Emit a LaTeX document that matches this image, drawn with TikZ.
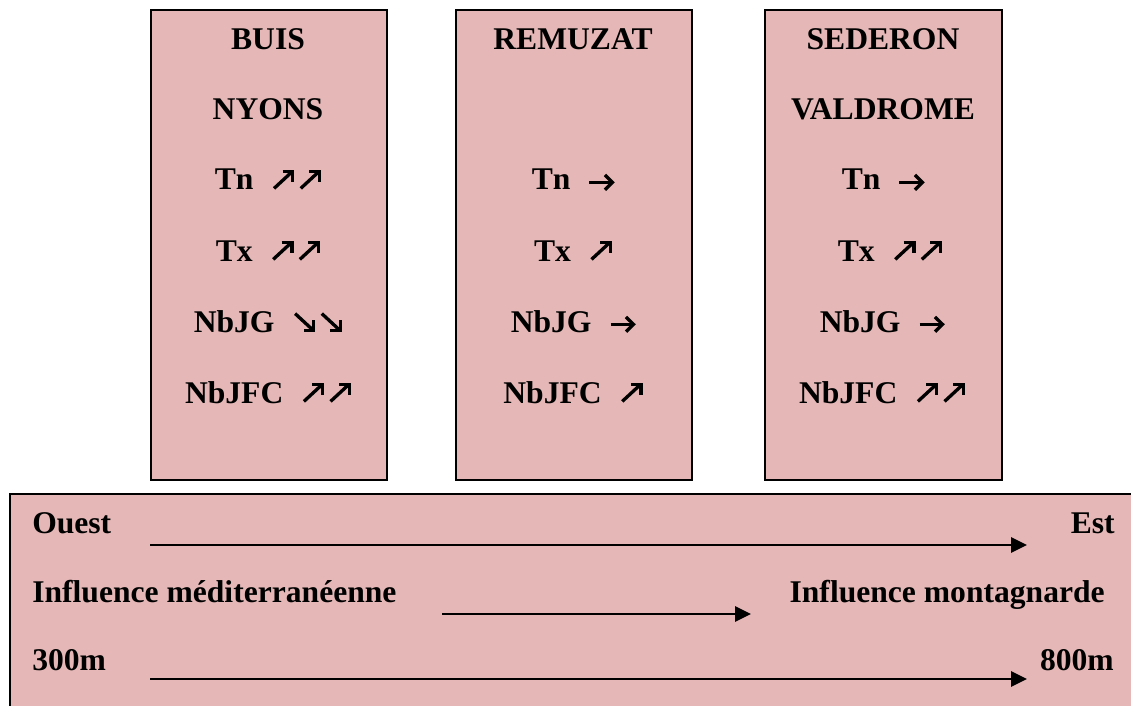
\documentclass[tikz,border=0pt]{standalone}
\usepackage{fontspec}
\setmainfont{Liberation Serif}
\usetikzlibrary{arrows.meta}
\definecolor{boxpink}{HTML}{E5B8B7}
% inline trend arrows (open chevron heads)
\newcommand{\arNE}{\tikz[baseline=0pt,x=1pt,y=1pt,line width=2.5pt,black]{%
  \useasboundingbox (0,0) rectangle (16.5,15);
  \draw[line cap=butt] (1.2,1.2) -- (14.6,13.6);
  \draw[line join=miter] (7.6,13.8) -- (15.2,13.8) -- (15.2,6.2);}}
\newcommand{\arSE}{\tikz[baseline=0pt,x=1pt,y=1pt,line width=2.5pt,black]{%
  \useasboundingbox (0,0) rectangle (16.5,15);
  \draw[line cap=butt] (1.2,13.8) -- (14.6,1.4);
  \draw[line join=miter] (15.2,8.8) -- (15.2,1.2) -- (7.6,1.2);}}
\newcommand{\arE}{\tikz[baseline=0pt,x=1pt,y=1pt,line width=2.5pt,black]{%
  \useasboundingbox (0,0) rectangle (18.5,12.5);
  \draw[line cap=butt] (0,5.75) -- (16.8,5.75);
  \draw[line join=miter] (11.6,11.3) -- (17.2,5.75) -- (11.6,0.2);}}
\newcommand{\twoNE}{\arNE\hspace{3.5pt}\arNE}
\newcommand{\twoSE}{\arSE\hspace{3.5pt}\arSE}
\begin{document}
\begin{tikzpicture}[x=0.75pt,y=-0.75pt,
  panel/.style={draw=black, fill=boxpink, line width=1.3pt, inner sep=0pt},
  lbl/.style={font=\fontsize{23.7}{28}\selectfont\bfseries, anchor=base, inner sep=0pt},
  flow/.style={-{Triangle[length=12pt,width=11.5pt]}, line width=1.6pt}]
\useasboundingbox (0,0) rectangle (1131,706);
\fill[white] (0,0) rectangle (1131,706);
% station boxes
\node[panel, anchor=north west, minimum width=177pt, minimum height=352.5pt] (buis) at (150,9) {};
\node[panel, anchor=north west, minimum width=177pt, minimum height=352.5pt] (remu) at (455,9) {};
\node[panel, anchor=north west, minimum width=177.75pt, minimum height=352.5pt] (sede) at (764,9) {};
% bottom band
\node[panel, anchor=north west, minimum width=860pt, minimum height=175pt] (band) at (9,493) {};
% BUIS / NYONS
\node[lbl] (b1) at (268,50) {BUIS};
\node[lbl] (b2) at (268,120) {NYONS};
\node[lbl] (b3) at (268,190) {Tn\hspace{0.6em}\twoNE};
\node[lbl] (b4) at (268,261) {Tx\hspace{0.6em}\twoNE};
\node[lbl] (b5) at (268,332) {NbJG\hspace{0.6em}\twoSE};
\node[lbl] (b6) at (268,403) {NbJFC\hspace{0.6em}\twoNE};
% REMUZAT
\node[lbl] (r1) at (573,50) {REMUZAT};
\node[lbl] (r3) at (573,190) {Tn\hspace{0.6em}\arE};
\node[lbl] (r4) at (573,261) {Tx\hspace{0.6em}\arNE};
\node[lbl] (r5) at (573,332) {NbJG\hspace{0.6em}\arE};
\node[lbl] (r6) at (573,403) {NbJFC\hspace{0.6em}\arNE};
% SEDERON / VALDROME
\node[lbl] (s1) at (883,50) {SEDERON};
\node[lbl] (s2) at (883,120) {VALDROME};
\node[lbl] (s3) at (883,190) {Tn\hspace{0.6em}\arE};
\node[lbl] (s4) at (890,261) {Tx\hspace{0.6em}\twoNE};
\node[lbl] (s5) at (882,332) {NbJG\hspace{0.6em}\arE};
\node[lbl] (s6) at (882,403) {NbJFC\hspace{0.6em}\twoNE};
% bottom band texts
\node[lbl, anchor=base west] (ouest) at (32,533) {Ouest};
\node[lbl, anchor=base east] (est) at (1115,533) {Est};
\node[lbl, anchor=base west] (med) at (32,602) {Influence méditerranéenne};
\node[lbl, anchor=base east] (mont) at (1105,602) {Influence montagnarde};
\node[lbl, anchor=base west] (alt1) at (32,670) {300m};
\node[lbl, anchor=base east] (alt2) at (1114,670) {800m};
% arrows
\coordinate (a1s) at (150,545); \coordinate (a1e) at (1027,545);
\coordinate (a2s) at (442,614); \coordinate (a2e) at (751,614);
\coordinate (a3s) at (150,679); \coordinate (a3e) at (1027,679);
\draw[flow] (a1s) -- (a1e);
\draw[flow] (a2s) -- (a2e);
\draw[flow] (a3s) -- (a3e);
\end{tikzpicture}
\end{document}
